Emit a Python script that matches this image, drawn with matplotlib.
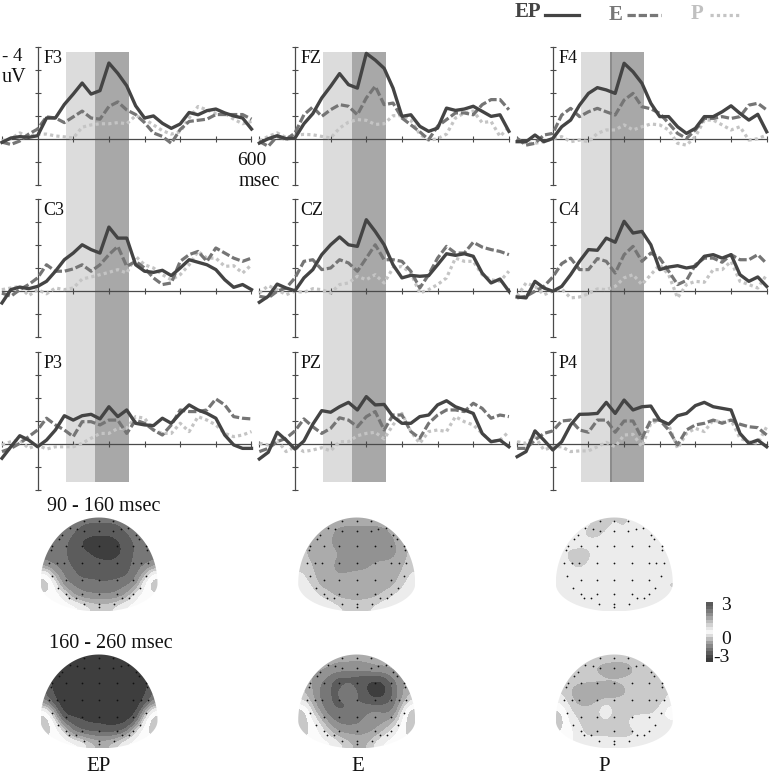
import numpy as np
import matplotlib
matplotlib.use('Agg')
import matplotlib.pyplot as plt
from matplotlib.colors import ListedColormap, BoundaryNorm
from matplotlib.lines import Line2D
from matplotlib.patches import PathPatch
from matplotlib.path import Path

plt.rcParams['font.family'] = ['Liberation Serif', 'DejaVu Serif']

W, H = 769, 778
TIME = list(range(-100, 601, 25))

F3_EP = [-.16,.03,.09,.06,.13,.9,.9,1.49,1.94,2.42,1.94,2.09,3.29,2.84,2.3,1.43,.9,.99,.67,.45,.64,1.14,1.04,1.22,1.29,1.12,.99,.9,.42]
F3_E = [-.15,-.25,-.1,.2,.42,.95,.9,.7,.95,1.2,.9,.85,1.4,1.6,1.25,1.05,.7,.25,.1,-.2,.4,.75,.8,.85,1.05,1.05,1.05,1.05,.85]
F3_P = [-.1,0,.25,.1,.2,.2,.12,.08,.03,.5,.6,.65,.65,.7,.65,1.0,.85,.6,.35,.2,.3,.9,1.4,1.25,1.1,1.1,.85,.65,.75]
FZ_EP = [-.19,0,.13,0,.03,.65,1.09,1.77,2.28,2.83,2.35,2.2,3.71,3.42,3.06,2.2,.97,1.04,.54,.32,.46,1.33,1.23,1.29,1.41,1.19,.97,1.04,.32]
FZ_E = [-.12,-.33,.1,-.04,.25,1.04,1.38,.97,1.26,1.48,1.41,1.04,1.77,2.28,1.48,1.55,.9,.6,.3,-.04,.54,.83,1.12,1.12,1.04,1.48,1.7,1.7,1.26]
FZ_P = [-.1,.1,.25,.05,.15,.19,.17,.1,.03,.46,.72,.83,.8,.62,.65,1.0,1.0,.8,.2,-.07,0,.2,.9,1.12,1.2,.7,.75,.1,.5]
F4_EP = [-.13,-.13,.16,-.13,.01,.52,.81,1.46,1.97,2.22,2.12,1.97,3.28,2.91,2.41,1.54,.96,.96,.52,.23,.45,.96,.96,1.17,1.43,1.1,.81,1.06,.3]
F4_E = [.01,-.28,-.2,.16,.23,1.03,1.32,.96,1.17,1.32,1.17,1.03,1.68,1.97,1.39,1.3,1.1,.67,.23,.01,.38,.88,.88,.96,.88,.96,1.46,1.54,1.25]
F4_P = [0,-.2,-.2,-.13,0,.09,-.13,-.06,-.13,.23,.38,.38,.6,.38,.52,.64,.6,.38,-.2,-.28,.09,.81,.81,.6,.38,.52,-.06,0,.16]
C3_EP = [-.52,.06,.17,.1,.2,.42,.86,1.36,1.65,2.01,1.8,1.65,2.78,2.3,2.3,1.14,.86,.81,.9,.67,1.0,1.36,1.25,1.14,.93,.49,.16,.28,.06]
C3_E = [-.09,-.23,.06,.28,.57,1.14,.86,.86,.96,1.14,.86,1.14,1.58,1.94,1.07,1.29,1.0,.57,.28,.35,1.29,1.58,1.72,1.29,1.87,1.65,1.43,1.29,1.43]
C3_P = [.06,.13,.2,-.2,.06,-.12,.13,.06,.13,.52,.61,.71,.81,.93,.78,1.51,1.14,1.0,.71,.49,.71,1.14,1.72,1.43,1.43,1.07,1.1,.78,1.14]
CZ_EP = [-.49,-.23,.3,.13,.01,.57,.93,1.58,2.01,2.35,2.01,1.94,3.1,2.59,2.01,1.14,.57,.68,.64,.67,1.14,1.62,1.55,1.62,1.51,.78,.35,.52,-.01]
CZ_E = [-.23,-.3,-.01,.13,.57,1.29,1.36,.93,1.0,1.36,1.22,.86,1.43,2.01,1.36,1.36,1.29,.86,.13,.71,1.43,1.94,1.65,1.65,2.12,1.91,1.8,1.72,1.58]
CZ_P = [-.09,.23,.06,-.16,-.01,-.06,.1,.06,-.09,.28,.35,.64,.49,.71,.35,1.0,1.07,.78,-.09,.06,.28,.57,1.43,1.29,1.29,.71,.49,.42,.86]
C4_EP = [-.26,-.3,.42,.13,-.01,.2,.71,1.29,1.8,1.77,2.3,2.12,3.03,2.52,2.59,2.01,.93,1.04,1.1,1.0,1.07,1.51,1.58,1.43,1.58,.71,.42,.61,.2]
C4_E = [-.3,-.23,-.01,.2,.61,1.19,1.43,.93,.93,1.41,1.29,.78,1.58,1.94,1.29,1.65,1.43,.86,.28,.46,1.14,1.43,1.43,1.25,1.58,1.36,1.36,1.58,1.19]
C4_P = [-.23,.35,.2,-.16,-.01,.09,-.3,-.26,-.12,.09,.06,.2,.57,.71,.28,.71,1.14,.71,-.3,.28,.42,.38,.93,.93,1.29,.42,.28,.13,.71]
P3_EP = [-.62,-.12,.36,.17,-.12,.17,.61,1.23,1.04,1.23,1.29,1.09,1.62,1.19,1.48,.9,.83,.8,1.12,.9,1.33,1.7,1.48,1.33,1.12,.39,-.04,-.19,-.19]
P3_E = [-.33,-.19,.03,.32,.61,1.12,.83,.61,.32,.97,.97,.83,1.04,1.04,.46,1.04,.9,.61,.39,.83,1.48,1.41,1.41,1.48,1.96,1.7,1.19,1.12,1.09]
P3_P = [-.04,.1,.17,-.19,-.04,-.22,-.12,-.12,-.12,.03,.25,.46,.46,.68,.68,1.19,1.12,.61,.46,.46,.9,.54,1.19,1.04,.83,.46,.32,.39,.54]
PZ_EP = [-.65,-.36,.51,.17,-.22,.13,.86,1.45,1.38,1.62,1.81,1.48,2.06,1.7,1.72,1.19,.9,.9,1.19,1.26,1.7,1.88,1.62,1.48,1.33,.46,.1,.17,-.12]
PZ_E = [-.33,-.19,.1,.25,.57,1.09,.75,.46,.68,1.14,1.04,.75,1.19,1.41,.61,1.26,1.26,.54,.25,.9,1.26,1.48,1.48,1.41,1.77,1.55,1.12,1.26,1.19]
PZ_P = [.03,-.04,.17,-.33,-.12,-.33,-.26,-.16,-.3,.1,.1,.36,.46,.51,.22,.83,1.33,.54,.03,.54,.61,.54,1.19,.97,.83,.46,.1,.17,.54]
P4_EP = [-.55,-.33,.57,.17,-.26,.1,.83,1.29,1.3,1.33,1.81,1.33,1.91,1.48,1.62,1.65,1.04,.86,1.23,1.33,1.67,1.81,1.62,1.55,1.48,.46,.03,.17,-.12]
P4_E = [-.19,-.19,.17,.46,.57,1.0,1.04,.61,.51,1.04,1.04,.51,1.0,1.0,.25,1.04,1.04,.61,-.04,.61,.83,.9,1.04,.9,1.04,.86,.75,.71,.39]
P4_P = [.1,.03,.32,-.26,-.12,-.12,-.33,-.3,-.3,-.12,.07,-.12,.39,.42,-.12,.9,1.04,.83,-.19,.46,.68,.54,1.04,.94,1.04,.25,.1,.03,.75]

PANEL_NAMES = [['F3', 'FZ', 'F4'], ['C3', 'CZ', 'C4'], ['P3', 'PZ', 'P4']]
SERIES = {'F3': (F3_EP, F3_E, F3_P), 'FZ': (FZ_EP, FZ_E, FZ_P), 'F4': (F4_EP, F4_E, F4_P),
          'C3': (C3_EP, C3_E, C3_P), 'CZ': (CZ_EP, CZ_E, CZ_P), 'C4': (C4_EP, C4_E, C4_P),
          'P3': (P3_EP, P3_E, P3_P), 'PZ': (PZ_EP, PZ_E, PZ_P), 'P4': (P4_EP, P4_E, P4_P)}
SHADE_MS = [79, 161, 256]
COND_NAMES = ['EP', 'E', 'P']
WINDOW_NAMES = ['90 - 160 msec', '160 - 260 msec']

# Scalp maps: uV on a coarse 13 x 9 grid
EP1 = [[-1.4]*13,
       [-1.3,-1.3,-1.3,-1.4,-1.6,-1.9,-1.9,-1.9,-1.7,-1.4,-1.3,-1.3,-1.3],
       [-1.2,-1.3,-1.4,-1.6,-2.3,-2.5,-2.6,-2.6,-2.3,-1.8,-1.4,-1.3,-1.2],
       [-1.2,-1.3,-1.4,-1.7,-1.8,-2.1,-2.4,-2.5,-2.3,-1.8,-1.4,-1.3,-1.2],
       [-1,-1.2,-1.3,-1.6,-1.8,-1.8,-1.8,-1.9,-1.8,-1.7,-1.3,-1.2,-1],
       [1,-.4,-1.1,-1.3,-1.7,-1.7,-1.8,-1.8,-1.7,-1.6,-1.2,-.4,1],
       [2,.8,-.9,-1.1,-1.2,-1.2,-1.3,-1.3,-1.2,-1.1,-.9,.8,2],
       [1,1,.7,-.6,-1,-1.1,-1.1,-1.1,-1,-.6,.6,1,1],
       [1,1,1,1,.6,.2,.1,.1,.4,.8,1,1,1]]
EP2 = [[-2.3]*13,
       [-2.3,-2.3,-2.4,-2.5,-2.6,-2.6,-2.6,-2.6,-2.6,-2.5,-2.4,-2.3,-2.3],
       [-1.8,-2.3,-2.6,-2.6,-2.6,-2.6,-2.6,-2.6,-2.6,-2.6,-2.6,-2.3,-1.8],
       [-1.5,-2.3,-2.6,-2.6,-2.6,-2.6,-2.6,-2.6,-2.6,-2.6,-2.6,-2.3,-1.5],
       [-1,-2,-2.6,-2.6,-2.6,-2.6,-2.6,-2.6,-2.6,-2.6,-2.6,-2,-1],
       [1,-.6,-2.4,-2.6,-2.6,-2.6,-2.6,-2.6,-2.6,-2.6,-2.4,-.6,1],
       [2,.6,-1.2,-1.6,-1.9,-2.2,-2.2,-2.4,-2.4,-2.2,-1.4,.6,2],
       [1.5,1.2,.5,-1.1,-1.4,-1.5,-1.5,-1.6,-1.5,-1.1,.4,1.2,1.5],
       [1.2,1,1,1,.6,0,-.3,-.2,.2,.8,1,1,1.2]]
E1 = [[-.4]*13,
      [-.2,-.4,-.4,-.45,-.8,-.9,-.9,-.9,-.9,-.8,-.5,-.4,-.2],
      [-.1,-.4,-.4,-.5,-.9,-.9,-.9,-.9,-.9,-.9,-.7,-.4,-.1],
      [-.1,-.3,-.4,-.45,-.5,-.8,-.9,-.9,-.9,-.9,-.8,-.4,-.1],
      [0,-.2,-.4,-.45,-.8,-.9,-.9,-.8,-.5,-.45,-.4,-.3,0],
      [.3,-.1,-.4,-.5,-.6,-.5,-.4,-.4,-.4,-.4,-.4,-.2,.3],
      [.5,.2,-.35,-.4,-.4,-.4,-.4,-.4,-.4,-.4,-.35,.1,.5],
      [.6,.5,.2,-.1,-.4,-.4,-.4,-.4,-.4,-.1,.2,.5,.6],
      [.6,.6,.6,.5,.3,.1,0,.1,.3,.5,.6,.6,.6]]
E2 = [[-.5]*13,
      [-.5,-.5,-.5,-.6,-.8,-.8,-.9,-.8,-.6,-.6,-.5,-.5,-.5],
      [-.4,-.6,-.9,-1.4,-1.9,-1.9,-1.9,-2.0,-2.2,-2.0,-1.2,-.7,-.4],
      [-.1,-.5,-1.2,-1.5,-1.6,-.6,-1.4,-2,-2.8,-2.6,-1.5,-.7,-.2],
      [.2,-.3,-1.1,-1.5,-1.6,-1.5,-1.5,-1.6,-1.9,-1.7,-1.4,-.6,.2],
      [1.8,.3,-.7,-1.4,-1.5,-1.5,-1.4,-1.1,-.9,-1.1,-1.2,.2,1.8],
      [2,.9,.1,-.7,-1.2,-1.2,-1.2,-.9,-.8,-.7,-.3,.6,2],
      [1.6,1.2,.6,0,-.6,-.7,-.7,-.7,-.6,-.1,.5,1.1,1.6],
      [1.2,1,1,.8,.4,0,-.3,-.3,.3,.8,1,1,1.2]]
P1 = [[.5,.5,.5,.5,-.1,-.1,.3,-.1,.5,.5,.5,.5,.5],
      [.5,.5,.5,-.1,-.1,.3,.5,.5,.5,.5,.5,.5,.5],
      [.5]*13,
      [.5,-.05,-.1,-.1,.5,.5,.5,.5,.5,.5,.5,.5,.5],
      [.5,.3,-.1,.3,.5,.5,.5,.5,.5,.5,.5,.5,.5],
      [.5]*13,
      [.5,.5,.5,.5,.5,.5,.5,.5,.5,.5,.5,.5,0],
      [.5,.5,.5,.5,.5,.5,.5,.5,.5,-.1,.5,.5,.5],
      [.5]*13]
P2 = [[0]*13,
      [0,0,0,0,-.3,-.5,-.6,-.6,-.3,0,0,0,0],
      [0]*13,
      [.2,-.2,-.5,-.7,-.7,-.7,-.6,-.4,0,0,0,0,.2],
      [.5,0,-.4,-.4,-.2,0,0,0,0,0,0,0,.3],
      [1.5,.3,0,0,0,.9,0,0,0,0,0,.3,1.2],
      [1.7,.6,.2,0,0,0,0,0,.5,.6,.6,.6,.5],
      [1.3,1,.4,0,0,0,0,0,0,.3,.6,.6,.6],
      [.8,.7,.6,.5,.5,.5,.4,.4,.5,.6,.6,.6,.6]]
MAPS = [[EP1, E1, P1], [EP2, E2, P2]]

MAP_LEVELS = [-3.5,-2.1,-1.5,-1.05,-.6,-.2,.2,.7,1.3,1.9,2.5,3.5]
MAP_GRAYS = ['#3e3e3e','#5c5c5c','#777777','#929292','#ababab','#cacaca','#ececec','#fbfbfb','#c8c8c8','#a0a0a0','#787878']
BAR_VALUES = [3,2.6,2.2,1.8,1.4,1,.7,.4,.1,-.2,-.5,-.9,-1.3,-1.7,-2.1,-2.5,-3]
BAR_GRAYS = ['#5a5a5a','#666666','#7a7a7a','#8e8e8e','#a4a4a4','#bcbcbc','#d2d2d2','#e6e6e6','#f6f6f6','#dddddd','#bdbdbd','#a0a0a0','#888888','#727272','#5c5c5c','#484848','#3c3c3c']

DOT_X = [-14.7,0,14,-29,29,-21.7,21.7,-14.7,0,14,-36.7,36.7,-40,40,-46.7,-33,-17.3,0,18,34.3,47.3,-48,48,
         -50,-42,-35,-17.3,0,18,34.3,42,49.3,-47,-33,-17.3,0,18,34.3,47,-41,41,-33,-17.3,0,18,34.3,-30,-23,23,30,-15,0,15,0]
DOT_Y = [3.7,3.7,3.7,10.3,10.3,11.7,11.7,13.3,13.3,13.3,17,17,21,21,28.7,28.7,28.7,28.7,28.7,28.7,28.7,32.7,32.7,
         45.3,45.3,45.3,45.3,45.3,45.3,45.3,45.3,45.3,58.3,62,62,62,62,62,58.3,70,70,76,76,76,76,76,80,80,80,80,86,86,86,89.3]

fig = plt.figure(figsize=(W / 100, H / 100), dpi=100, facecolor='white')


def add_ax(x0, y0, x1, y1, **kw):
    """Axes from pixel box, y measured down from the top of the picture."""
    return fig.add_axes([x0 / W, 1 - y1 / H, (x1 - x0) / W, (y1 - y0) / H], **kw)


AXIS_X = [37.6, 295.0, 552.8]
PX_PER_MS = 0.3565
TOPS = [46.7, 199.0, 352.0]
PX_PER_UV = 23.0
FS_PANEL = 13
FS = 14.5
INK = '#4a4a4a'
TEXT = '#111111'

# Shaded windows run unbroken through the three rows
for ax_x in AXIS_X:
    bg = add_ax(ax_x - 100 * PX_PER_MS, 52, ax_x + 600 * PX_PER_MS, 482, zorder=0)
    bg.set_xlim(-100, 600)
    bg.set_ylim(0, 1)
    bg.axis('off')
    bg.axvspan(SHADE_MS[0], SHADE_MS[1], color='#dcdcdc', lw=0)
    bg.axvspan(SHADE_MS[1], SHADE_MS[2], color='#a8a8a8', lw=0)
    if ax_x == AXIS_X[2]:
        bg.axvspan(SHADE_MS[1], SHADE_MS[1] + 5, color='#8c8c8c', lw=0)

for r, row in enumerate(PANEL_NAMES):
    for c, name in enumerate(row):
        ep, e, p = SERIES[name]
        x0 = AXIS_X[c]
        ax = add_ax(x0 - 100 * PX_PER_MS, TOPS[r], x0 + 600 * PX_PER_MS, TOPS[r] + 6 * PX_PER_UV, zorder=2)
        ax.patch.set_alpha(0)
        ax.set_xlim(-100, 600)
        ax.set_ylim(-2, 4)
        for s in ('top', 'right'):
            ax.spines[s].set_visible(False)
        ax.spines['left'].set_position(('data', 0))
        ax.spines['bottom'].set_position(('data', 0))
        for s in ('left', 'bottom'):
            ax.spines[s].set_color(INK)
            ax.spines[s].set_linewidth(0.9)
        ax.set_xticks([-100, 100, 200, 300, 400, 500, 600])
        ax.set_yticks([-2, -1, 1, 2, 3, 4])
        ax.tick_params(direction='inout', length=5, width=0.8, color=INK, labelbottom=False, labelleft=False)
        ax.plot(TIME, p, color='#c4c4c4', lw=2.3, ls=(0, (1.0, 1.0)), clip_on=False, zorder=3)
        ax.plot(TIME, e, color='#757575', lw=2.3, ls=(0, (2.6, 0.9)), clip_on=False, zorder=4)
        ax.plot(TIME, ep, color='#444444', lw=2.4, clip_on=False, solid_joinstyle='round', zorder=5)
        ax.annotate(name, xy=(0, 4), xytext=(5.5, -3), textcoords='offset pixels', fontsize=FS_PANEL,
                    color=TEXT, ha='left', va='top', annotation_clip=False)
        if name == 'F3':
            ax.annotate('600', xy=(600, 0), xytext=(0, -22), textcoords='offset pixels', fontsize=14,
                        color=TEXT, ha='center', va='center', annotation_clip=False)
            ax.annotate('msec', xy=(600, 0), xytext=(28, -43), textcoords='offset pixels', fontsize=FS,
                        color=TEXT, ha='right', va='center', annotation_clip=False)
            ax.annotate('- 4', xy=(0, 4), xytext=(-36, -10), textcoords='offset pixels', fontsize=13.5,
                        color=TEXT, ha='left', va='center', annotation_clip=False)
            ax.annotate('uV', xy=(0, 4), xytext=(-36, -31), textcoords='offset pixels', fontsize=FS,
                        color=TEXT, ha='left', va='center', annotation_clip=False)

# Scalp maps
cmap = ListedColormap(MAP_GRAYS)
norm = BoundaryNorm(MAP_LEVELS, cmap.N)
MAP_CX = [99.0, 356.7, 614.3]
MAP_TOP = [517.5, 654.5]
MAP_W, MAP_H, MAP_WIDE = 58.5, 94.0, 66.0

t = np.linspace(0, 2 * np.pi, 240)
dome_x = MAP_W * np.cos(t)
dome_y = np.where(np.sin(t) >= 0, MAP_WIDE - MAP_WIDE * np.sin(t), MAP_WIDE - (MAP_H - MAP_WIDE) * np.sin(t))

for r, row in enumerate(MAPS):
    for c, vals in enumerate(row):
        cx, top = MAP_CX[c], MAP_TOP[r]
        ax = add_ax(cx - MAP_W - 1, top - 1, cx + MAP_W + 1, top + MAP_H + 1, zorder=2)
        ax.axis('off')
        im = ax.imshow(np.array(vals), extent=(-MAP_W, MAP_W, MAP_H, 0), cmap=cmap, norm=norm,
                       interpolation='bicubic', interpolation_stage='data', aspect='auto')
        ax.set_xlim(-MAP_W - 1, MAP_W + 1)
        ax.set_ylim(MAP_H + 1, -1)
        clip = PathPatch(Path(np.column_stack([dome_x, dome_y])), transform=ax.transData, fc='none', ec='none')
        ax.add_patch(clip)
        im.set_clip_path(clip)
        ax.scatter(DOT_X, DOT_Y, s=1.6, c='#111111', linewidths=0, zorder=3)

# Colour bar
bar = add_ax(705.7, 602, 712, 662, zorder=2)
bar.imshow(np.arange(len(BAR_VALUES)).reshape(-1, 1), cmap=ListedColormap(BAR_GRAYS),
           aspect='auto', interpolation='nearest',
           extent=(0, 1, BAR_VALUES[-1], BAR_VALUES[0]))
bar.axis('off')

# Free text, in pixel positions
overlay = add_ax(0, 0, W, H, zorder=3)
overlay.set_xlim(0, W)
overlay.set_ylim(H, 0)
overlay.axis('off')
overlay.patch.set_alpha(0)
overlay.text(47, 506.5, WINDOW_NAMES[0], fontsize=FS, color=TEXT, ha='left', va='center')
overlay.text(49, 644, WINDOW_NAMES[1], fontsize=FS, color=TEXT, ha='left', va='center')
for label, lx in zip(COND_NAMES, [99, 357.7, 604]):
    overlay.text(lx, 766.5, label, fontsize=15, color=TEXT, ha='center', va='center')
overlay.text(721, 605, '3', fontsize=14, color=TEXT, ha='left', va='center')
overlay.text(721, 640, '0', fontsize=14, color=TEXT, ha='left', va='center')
overlay.text(713, 658, '-3', fontsize=14, color=TEXT, ha='left', va='center')

overlay.text(515, 12, COND_NAMES[0], fontsize=15, fontweight='bold', color='#444444', ha='left', va='center')
overlay.text(609, 15, COND_NAMES[1], fontsize=15, fontweight='bold', color='#777777', ha='left', va='center')
overlay.text(691, 14, COND_NAMES[2], fontsize=15, fontweight='bold', color='#c0c0c0', ha='left', va='center')
overlay.add_line(Line2D([545, 579], [14.5, 14.5], color='#444444', lw=2.3))
overlay.add_line(Line2D([627, 661], [14.5, 14.5], color='#777777', lw=2.3, ls=(0, (2.6, 0.9))))
overlay.add_line(Line2D([710, 740], [14.5, 14.5], color='#c4c4c4', lw=2.3, ls=(0, (1.0, 1.0))))

fig.savefig('out.png', dpi=100)
